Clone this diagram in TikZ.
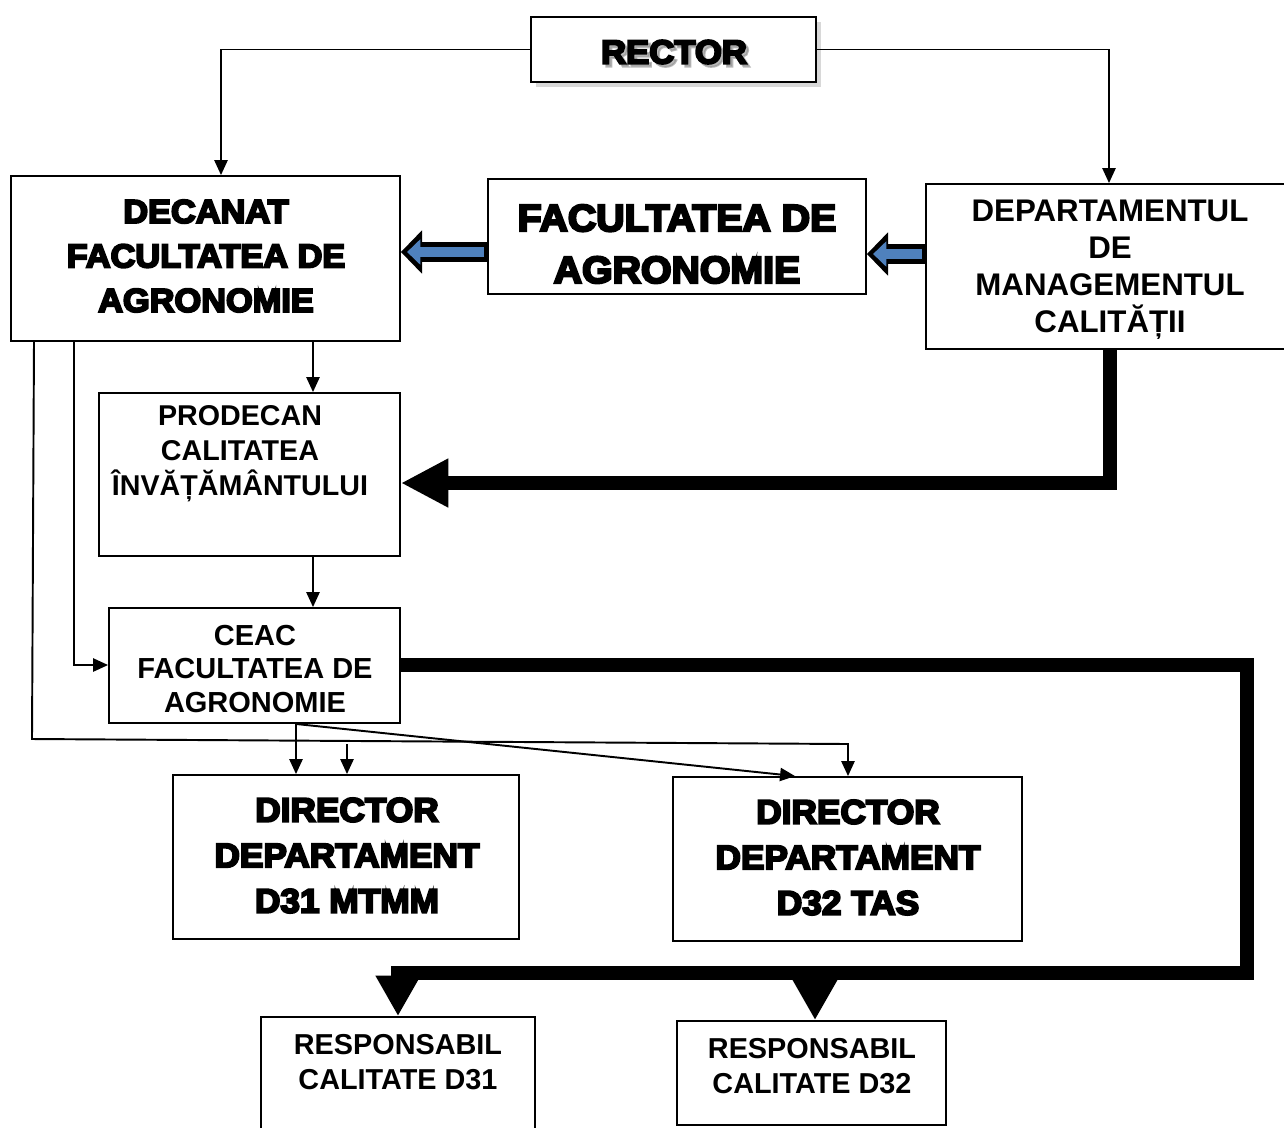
\documentclass[tikz,border=0pt]{standalone}
\usepackage{fontspec}
\setmainfont{Liberation Sans}
\newfontfamily\heavyfont{Liberation Sans}[FakeBold=6, FakeStretch=1.04, BoldFeatures={FakeBold=6, FakeStretch=1.04}]
\usetikzlibrary{arrows.meta,shadows}
\definecolor{blockblue}{HTML}{4F81BD}
\newcommand\hvf[2]{\heavyfont\bfseries\fontsize{#1}{#2}\selectfont}
\newcommand\bdf[2]{\bfseries\fontsize{#1}{#2}\selectfont}
\begin{document}
\begin{tikzpicture}[x=0.02cm,y=-0.02cm,
  box/.style={draw=black, line width=1.1pt, rectangle, inner sep=0pt, fill=white},
  txt/.style={align=center, inner sep=0pt},
  thin/.style={line width=1.1pt, -{Triangle[length=8.5pt,width=7.5pt]}},
  thinline/.style={line width=1.1pt},
  heavyline/.style={line width=8pt, line join=miter},
  bigtip/.style={-{Triangle[length=27pt,width=26pt]}},
  smalltip/.style={-{Triangle[length=23pt,width=24pt]}},
  blockout/.style={line width=11.4pt, black, -{Triangle[length=12pt,width=24pt]}},
  blockin/.style={line width=5.4pt, blockblue, shorten <=1.7pt, shorten >=3.5pt, -{Triangle[length=7.5pt,width=14pt]}}
]
\useasboundingbox (0,0) rectangle (1284,1127);

% boxes
\node[box, minimum width=5.70cm, minimum height=1.30cm,
  drop shadow={shadow xshift=3pt, shadow yshift=-3pt, fill=black!30, opacity=0.5}] (rector) at (673.5,49.5) {};
\node[box, minimum width=7.78cm, minimum height=3.30cm] (dec) at (205.5,258.5) {};
\node[box, minimum width=7.56cm, minimum height=2.30cm] (fac) at (677,236.5) {};
\node[box, minimum width=7.32cm, minimum height=3.30cm] (dept) at (1109,266.5) {};
\node[box, minimum width=6.02cm, minimum height=3.26cm] (prod) at (249.5,474.5) {};
\node[box, minimum width=5.82cm, minimum height=2.30cm] (ceac) at (254.5,665.5) {};
\node[box, minimum width=6.92cm, minimum height=3.28cm] (d31) at (346,857) {};
\node[box, minimum width=6.98cm, minimum height=3.28cm] (d32) at (847.5,859) {};
\node[box, minimum width=5.48cm, minimum height=2.46cm] (r31) at (398,1078.5) {};
\node[box, minimum width=5.38cm, minimum height=2.08cm] (r32) at (811.5,1073) {};

% texts
\node[txt, text=black!45, opacity=0.6, font=\hvf{19}{24}] (rector-ts) at (677,55) {RECTOR};
\node[txt, font=\hvf{19}{24}] (rector-t) at (674,52) {RECTOR};
\node[txt, font=\hvf{18.8}{25.3}] (dec-t) at (206,256) {DECANAT\\FACULTATEA DE\\AGRONOMIE};
\node[txt, font=\hvf{21.5}{29.5}] (fac-t) at (677,244) {FACULTATEA DE\\AGRONOMIE};
\node[txt, font=\bdf{17.8}{21}] (dept-t) at (1110,269.5) {DEPARTAMENTUL\\DE\\MANAGEMENTUL\\CALITĂȚII};
\node[txt, font=\bdf{16.3}{19.9}] (prod-t) at (240,454) {PRODECAN\\CALITATEA\\ÎNVĂȚĂMÂNTULUI};
\node[txt, font=\bdf{16.5}{18.8}] (ceac-t) at (255,669) {CEAC\\FACULTATEA DE\\AGRONOMIE};
\node[txt, font=\hvf{19.3}{25.9}] (d31-t) at (347,855.5) {DIRECTOR\\DEPARTAMENT\\D31 MTMM};
\node[txt, font=\hvf{19.3}{25.9}] (d32-t) at (848,857.5) {DIRECTOR\\DEPARTAMENT\\D32 TAS};
\node[txt, font=\bdf{16.4}{19.9}] (r31-t) at (398,1062) {RESPONSABIL\\CALITATE D31};
\node[txt, font=\bdf{16.4}{19.9}] (r32-t) at (812,1066.5) {RESPONSABIL\\CALITATE D32};

% thin connectors
\draw[thin] (rector.west) -| (221,0 |- dec.north);
\draw[thin] (rector.east) -| (1109,0 |- dept.north);
\draw[thin] (313,0 |- dec.south) -- (313,0 |- prod.north);
\draw[thin] (313,0 |- prod.south) -- (313,0 |- ceac.north);
\draw[thin] (74,0 |- dec.south) |- (ceac.west |- 0,665);
\coordinate (bl) at (32,739);
\coordinate (br) at (848,744);
\draw[thin] (34,0 |- dec.south) -- (bl) -- (br) -- (848,0 |- d32.north);
\draw[thin] (347,744) -- (347,0 |- d31.north);
\draw[thin] (296,0 |- ceac.south) -- (296,0 |- d31.north);
\draw[thin] (296,0 |- ceac.south) -- (795,0 |- d32.north);

% block arrows
\draw[blockout] (fac.west |- 0,252) -- (dec.east |- 0,252);
\draw[blockin] (fac.west |- 0,252) -- (dec.east |- 0,252);
\draw[blockout] (dept.west |- 0,254) -- (fac.east |- 0,254);
\draw[blockin] (dept.west |- 0,254) -- (fac.east |- 0,254);

% heavy connectors
\draw[heavyline, bigtip] (1110,0 |- dept.south) |- (prod.east |- 0,483);
\coordinate (hr) at (1247,665);
\coordinate (hb) at (1247,973);
\draw[heavyline, smalltip] (ceac.east |- 0,665) -- (hr) -- (hb) -| (398,0 |- r31.north);
\draw[heavyline, smalltip] (815,973) -- (815,0 |- r32.north);
\end{tikzpicture}
\end{document}
